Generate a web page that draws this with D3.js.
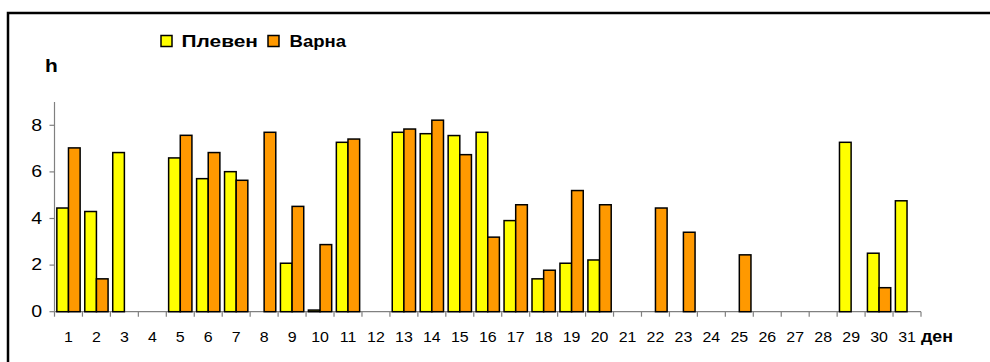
<!DOCTYPE html>
<html><head><meta charset="utf-8">
<script src="https://cdn.jsdelivr.net/npm/d3@7"></script>
<style>
html,body{margin:0;padding:0;background:#fff;}
svg{display:block;font-family:"Liberation Sans",Arial,sans-serif;}
</style></head>
<body>
<svg id="chart" width="990" height="362"></svg>
<script>
const days = d3.range(1, 32).map(String);
const seriesNames = ["Плевен", "Варна"];
const pleven = [4.45,4.3,6.83,null,6.6,5.71,6.01,null,2.08,0.07,7.27,null,7.7,7.64,7.56,7.7,3.91,1.41,2.08,2.22,null,null,null,null,null,null,null,null,7.27,2.51,4.76];
const varna  = [7.03,1.41,null,null,7.57,6.83,5.64,7.7,4.52,2.88,7.41,null,7.84,8.22,6.74,3.2,4.59,1.78,5.2,4.59,null,4.45,3.41,null,2.44,null,null,null,null,1.03,null];
const yTicks = [0,2,4,6,8];
const colors = ["#FFFF00", "#FF9900"];

const svg = d3.select("#chart");
// outer border
svg.append("rect").attr("x",8).attr("y",13).attr("width",1000).attr("height",400)
  .attr("fill","none").attr("stroke","#000").attr("stroke-width",2.5);

const x0 = 54.5, x1 = 921, yb = 311.7, yt = 102;
const x = d3.scaleBand().domain(days).range([x0, x1]).paddingInner(0).paddingOuter(0);
const xs = d3.scaleBand().domain(seriesNames).range([0, x.bandwidth()]).paddingInner(0).paddingOuter(0.2);
const y = d3.scaleLinear().domain([0, 9]).range([yb, yt]);

// axes lines
const ax = svg.append("g").attr("stroke","#808080").attr("stroke-width",1.2);
ax.append("line").attr("x1",x0).attr("x2",x0).attr("y1",yt).attr("y2",yb);
ax.append("line").attr("x1",x0).attr("x2",x1).attr("y1",yb).attr("y2",yb);
// y ticks
ax.selectAll(".yt").data(yTicks).join("line")
  .attr("x1",x0-5).attr("x2",x0).attr("y1",d=>y(d)).attr("y2",d=>y(d));
// x boundary ticks
const bounds = days.map(d=>x(d)).concat([x1]);
ax.selectAll(".xt").data(bounds).join("line")
  .attr("x1",d=>d).attr("x2",d=>d).attr("y1",yb).attr("y2",yb+5);

// bars
const data = [];
days.forEach((d,i)=>{
  if (pleven[i]!=null) data.push({day:d, s:seriesNames[0], v:pleven[i], c:colors[0]});
  if (varna[i]!=null) data.push({day:d, s:seriesNames[1], v:varna[i], c:colors[1]});
});
svg.append("g").selectAll("rect").data(data).join("rect")
  .attr("x", d=>x(d.day)+xs(d.s))
  .attr("y", d=>y(d.v))
  .attr("width", xs.bandwidth())
  .attr("height", d=>yb - y(d.v))
  .attr("fill", d=>d.c)
  .attr("stroke","#000").attr("stroke-width",1.5);

// y tick labels (slightly wide glyphs as in reference)
svg.append("g").selectAll("text").data(yTicks).join("text")
  .attr("transform", d=>`translate(42,${y(d)+5.3}) scale(1.22,1)`)
  .attr("text-anchor","end").attr("font-size",16).attr("fill","#000")
  .text(d=>d);
// x tick labels
svg.append("g").selectAll("text").data(days).join("text")
  .attr("transform", d=>`translate(${x(d)+x.bandwidth()/2},341.8) scale(1.1,1)`)
  .attr("text-anchor","middle").attr("font-size",14.5).attr("fill","#000")
  .text(d=>d);

// axis titles
svg.append("text").attr("transform","translate(45,71.7) scale(1.1,1)").attr("font-size",19).attr("font-weight","bold").text("h");
svg.append("text").attr("x",921).attr("y",341.8).attr("font-size",16.5).attr("font-weight","bold")
  .attr("textLength",32).attr("lengthAdjust","spacingAndGlyphs").text("ден");

// legend
const lg = svg.append("g");
const legendX = [161, 268];
const legendTextX = [181.5, 289.5];
const legendTextW = [76.5, 56.5];
seriesNames.forEach((n,i)=>{
  lg.append("rect").attr("x",legendX[i]).attr("y",35.5).attr("width",11).attr("height",11)
    .attr("fill",colors[i]).attr("stroke","#000").attr("stroke-width",1.5);
  lg.append("text").attr("x",legendTextX[i]).attr("y",46.7).attr("font-size",16.5).attr("font-weight","bold")
    .attr("textLength",legendTextW[i]).attr("lengthAdjust","spacingAndGlyphs").text(n);
});
</script>
</body></html>
